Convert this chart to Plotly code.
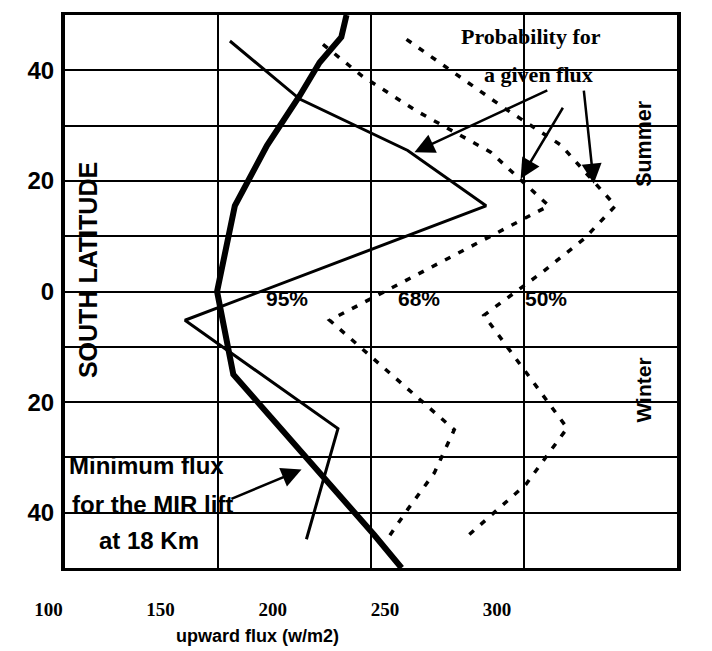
import plotly.graph_objects as go

# ---- data ----
min_flux_x = [192, 190.3, 183.2, 176.7, 166, 160.4, 155.5, 149.7, 155, 201, 210]
min_flux_y = [50, 46, 41.4, 35.4, 26.4, 20.4, 15.5, 0, -15, -44, -50]

p95_x = [153.9, 176.7, 212, 237.6, 139.2, 189.2, 178.9]
p95_y = [45.3, 34.8, 25.5, 15.5, -5.2, -24.8, -44.8]

p68_x = [184.3, 197, 214.7, 239.1, 258.1, 186.5, 227.2, 220.7, 212, 206]
p68_y = [44.7, 39, 32.7, 25.2, 15.5, -5.2, -25, -32.8, -39.4, -44.2]

p50_x = [211.6, 244, 262, 279.9, 269.6, 256, 236.9, 264.1, 250.6, 231]
p50_y = [45.6, 33, 26.5, 15.5, 9.5, 3.5, -4.3, -24.7, -34.9, -44.5]

lat_tickvals = [-40, -30, -20, -10, 0, 10, 20, 30, 40]
lat_ticktext = ["40", "", "20", "", "0", "", "20", "", "40"]
flux_tickvals = [100, 150, 200, 250, 300]
flux_ticktext = ["100", "150", "200", "250", "300"]

SANS = "Liberation Sans, Arial, sans-serif"
SERIF = "Liberation Serif, Times New Roman, serif"

fig = go.Figure()

fig.add_trace(go.Scatter(x=min_flux_x, y=min_flux_y, mode="lines",
                         line=dict(color="black", width=6), showlegend=False))
fig.add_trace(go.Scatter(x=p95_x, y=p95_y, mode="lines",
                         line=dict(color="black", width=3), showlegend=False))
fig.add_trace(go.Scatter(x=p68_x, y=p68_y, mode="lines",
                         line=dict(color="black", width=3.5, dash="6px,9px"), showlegend=False))
fig.add_trace(go.Scatter(x=p50_x, y=p50_y, mode="lines",
                         line=dict(color="black", width=3.5, dash="6px,9px"), showlegend=False))
# invisible trace carrying the (offset) tick-label axis
fig.add_trace(go.Scatter(x=[100, 300], y=[None, None], xaxis="x2", yaxis="y2",
                         mode="lines", showlegend=False, hoverinfo="skip"))

W, H = 712, 651
OFF = 8  # page body margin
ml, mr, mt, mb = 20, 20, 2, 50
pw, ph = W - ml - mr, H - mt - mb

def fx(px):
    return (px - OFF - ml) / pw

def fy(py):
    return (H - mb - (py - OFF)) / ph

fig.update_layout(
    width=W, height=H,
    margin=dict(l=ml, r=mr, t=mt, b=mb),
    paper_bgcolor="white", plot_bgcolor="rgba(0,0,0,0)",
    showlegend=False,
    xaxis=dict(domain=[fx(65), fx(677)], range=[100, 300], dtick=50, tick0=100,
               showgrid=True, gridcolor="black", gridwidth=2,
               showline=True, linecolor="black", linewidth=3, mirror=True,
               showticklabels=False, ticks="", zeroline=False),
    yaxis=dict(domain=[fy(568), fy(15)], range=[-50, 50],
               tickvals=lat_tickvals, ticktext=lat_ticktext,
               showgrid=True, gridcolor="black", gridwidth=2,
               showline=True, linecolor="black", linewidth=4, mirror=True,
               ticks="", zeroline=False, ticklabelstandoff=2,
               tickfont=dict(family=SANS, size=24, color="black", weight="bold")),
    xaxis2=dict(domain=[fx(48.5), fx(497)], range=[100, 300], anchor="free",
                position=fy(568), tickvals=flux_tickvals, ticktext=flux_ticktext,
                showgrid=False, showline=False, zeroline=False, ticks="",
                ticklabelstandoff=28,
                tickfont=dict(family=SERIF, size=19, color="black", weight="bold")),
    yaxis2=dict(domain=[fy(568), fy(15)], range=[-50, 50], visible=False,
                anchor="x2"),
)

ann = []

def text(x, y, t, size, family=SANS, angle=0, bold=True):
    ann.append(dict(x=x, y=y, xref="x", yref="y", text=t, showarrow=False,
                    textangle=angle, xanchor="center", yanchor="middle",
                    font=dict(family=family, size=size, color="black",
                              weight="bold" if bold else "normal")))

def arrow(x, y, ax, ay):
    ann.append(dict(x=x, y=y, ax=ax, ay=ay, xref="x", yref="y", axref="x", ayref="y",
                    text="", showarrow=True, arrowhead=2, arrowsize=1.6,
                    arrowwidth=2.5, arrowcolor="black", standoff=0, startstandoff=0))

text(107.7, 3.8, "SOUTH LATITUDE", 25, angle=-90)
text(172.5, -1.3, "95%", 21)
text(215.8, -1.3, "68%", 21)
text(257.2, -1.3, "50%", 21)
text(289.4, 26.8, "Summer", 21.5, angle=-90)
text(289.1, -17.8, "Winter", 21, angle=-90)
text(252.3, 46.1, "Probability for", 22, family=SERIF)
text(254.9, 39.3, "a given flux", 22, family=SERIF)
text(126.5, -31.5, "Minimum flux", 24)
text(128.5, -38.6, "for the MIR lift", 24)
text(127.5, -45.0, "at 18 Km", 24)

arrow(214.2, 25.2, 258.1, 36.5)
arrow(248.9, 20.4, 263.0, 33.5)
arrow(272.8, 19.5, 269.5, 36.6)
arrow(177.3, -32.2, 153.9, -37.6)

ann.append(dict(x=193, y=fy(636), xref="x2", yref="paper", text="upward flux (w/m2)",
                showarrow=False, xanchor="center", yanchor="middle",
                font=dict(family=SANS, size=18, color="black", weight="bold")))

fig.update_layout(annotations=ann)

fig.write_html("out.html")
